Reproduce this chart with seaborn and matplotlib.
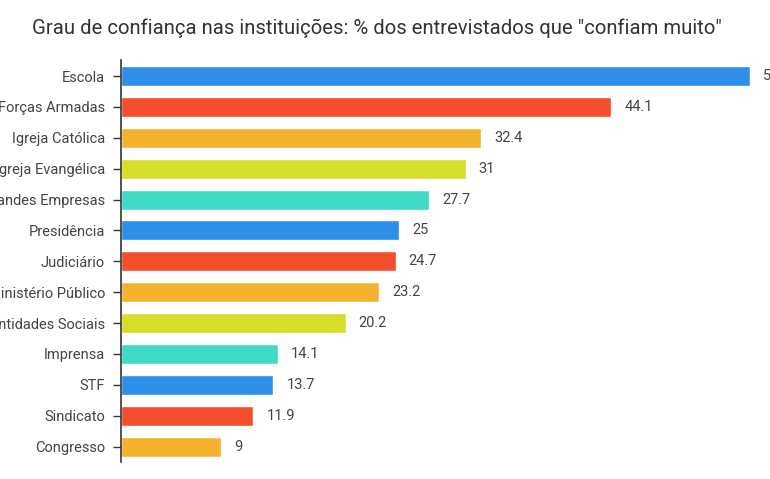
import matplotlib
matplotlib.use("Agg")
import matplotlib.pyplot as plt
import seaborn as sns
import pandas as pd

# Dados do gráfico
instituicoes = ["Escola", "Forças Armadas", "Igreja Católica", "Igreja Evangélica",
                "Grandes Empresas", "Presidência", "Judiciário", "Ministério Público",
                "Entidades Sociais", "Imprensa", "STF", "Sindicato", "Congresso"]
confiam_muito = [56.6, 44.1, 32.4, 31, 27.7, 25, 24.7, 23.2, 20.2, 14.1, 13.7, 11.9, 9]
rotulos = ["56.6", "44.1", "32.4", "31", "27.7", "25", "24.7", "23.2", "20.2",
           "14.1", "13.7", "11.9", "9"]
cores_base = ["#2E8FE8", "#F44E2C", "#F4B32F", "#D6DE2A", "#3FDBC4"]

cores = [cores_base[i % len(cores_base)] for i in range(len(instituicoes))]
df = pd.DataFrame({"Instituicao": instituicoes, "Valor": confiam_muito})

sns.set_style("white")
plt.rcParams["font.family"] = ["Roboto", "DejaVu Sans"]

fig = plt.figure(figsize=(7.7, 4.79), dpi=100)
ax = fig.add_axes([121 / 770, 1 - 462 / 479, 667 / 770, 402 / 479])

sns.barplot(data=df, x="Valor", y="Instituicao", hue="Instituicao",
            palette=cores, legend=False, width=0.65, saturation=1, ax=ax)

# rótulos de valor à direita das barras
for i, (v, r) in enumerate(zip(confiam_muito, rotulos)):
    ax.annotate(r, (v, i), xytext=(9.5, 0), textcoords="offset points",
                va="center", ha="left", fontsize=10.5, color="#444444")

ax.set_xlim(0, 60)
ax.set_ylim(12.5, -0.52)
ax.set_xlabel("")
ax.set_ylabel("")
ax.set_xticks([])
for s in ["top", "right", "bottom"]:
    ax.spines[s].set_visible(False)
ax.spines["left"].set_color("#333333")
ax.spines["left"].set_linewidth(1.2)
ax.tick_params(axis="y", left=True, length=6, width=1, color="#333333",
               pad=5.5, labelsize=10.5, labelcolor="#444444")

fig.text(377 / 770, 1 - 28 / 479,
         'Grau de confiança nas instituições: % dos entrevistados que "confiam muito"',
         ha="center", va="center", fontsize=14.6, color="#333333")

fig.savefig("out.png", dpi=100)
